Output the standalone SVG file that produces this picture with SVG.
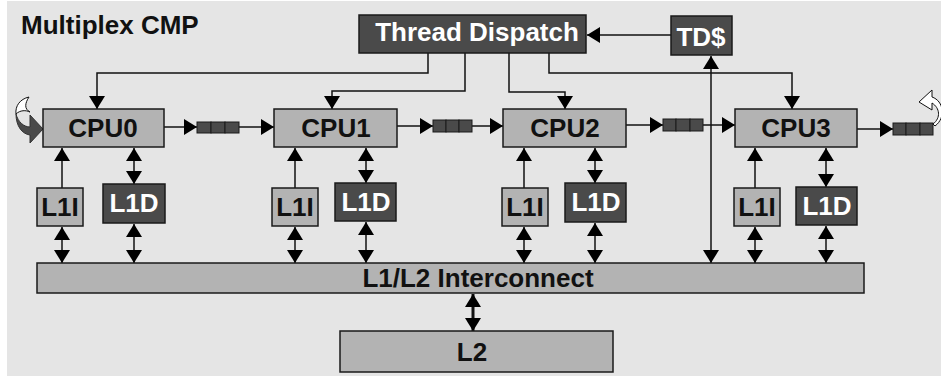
<svg xmlns="http://www.w3.org/2000/svg" width="941" height="377" viewBox="0 0 941 377">
<defs>
<marker id="ah" viewBox="0 0 13 16" markerWidth="13" markerHeight="16" refX="13" refY="8" orient="auto-start-reverse" markerUnits="userSpaceOnUse">
<path d="M0,0 L13,8 L0,16 z" fill="#000"/>
</marker>
</defs>
<style>
text{font-family:"Liberation Sans",Arial,Helvetica,sans-serif;font-weight:bold;text-anchor:middle}
.lt{fill:#b3b3b3;stroke:#1a1a1a;stroke-width:1.5}
.dk{fill:#4a4a4a;stroke:#1a1a1a;stroke-width:1.5}
.bt{fill:#111;font-size:26px}
.wt{fill:#fff;font-size:26px}
.ln{fill:none;stroke:#111;stroke-width:1.5}
.one{marker-end:url(#ah)}
.two{marker-start:url(#ah);marker-end:url(#ah)}
.q{fill:#4a4a4a;stroke:#1a1a1a;stroke-width:1}
</style>
<rect x="7" y="1" width="934" height="375" fill="#e5e5e5"/>
<text x="21" y="34" style="font-size:26px;text-anchor:start;fill:#111">Multiplex CMP</text>

<g id="connectors">
<polyline class="ln one" points="428,53 428,73 97,73 97,109"/>
<polyline class="ln one" points="465,53 465,91 332,91 332,109"/>
<polyline class="ln one" points="509,53 509,92 565,92 565,109"/>
<polyline class="ln one" points="549,53 549,73 792,73 792,109"/>
<line class="ln one" x1="671" y1="35" x2="587" y2="35"/>
<line class="ln two" x1="711" y1="56" x2="711" y2="263"/>
<line class="ln one" x1="164" y1="127" x2="197" y2="127"/>
<line class="ln one" x1="239" y1="127" x2="274" y2="127"/>
<line class="ln one" x1="397" y1="126" x2="433" y2="126"/>
<line class="ln one" x1="472" y1="126" x2="503" y2="126"/>
<line class="ln one" x1="626" y1="125" x2="663" y2="125"/>
<line class="ln one" x1="703" y1="125" x2="735" y2="125"/>
<line class="ln one" x1="857" y1="129" x2="893" y2="129"/>
<line class="ln one" x1="62" y1="188" x2="62" y2="148"/>
<line class="ln one" x1="295" y1="188" x2="295" y2="148"/>
<line class="ln one" x1="524" y1="188" x2="524" y2="148"/>
<line class="ln one" x1="755" y1="188" x2="755" y2="148"/>
<line class="ln two" x1="134" y1="148" x2="134" y2="184"/>
<line class="ln two" x1="366" y1="148" x2="366" y2="183"/>
<line class="ln two" x1="595" y1="148" x2="595" y2="183"/>
<line class="ln two" x1="826" y1="148" x2="826" y2="187"/>
<line class="ln two" x1="62" y1="227" x2="62" y2="263"/>
<line class="ln two" x1="134" y1="224" x2="134" y2="263"/>
<line class="ln two" x1="295" y1="227" x2="295" y2="263"/>
<line class="ln two" x1="366" y1="222" x2="366" y2="263"/>
<line class="ln two" x1="524" y1="227" x2="524" y2="263"/>
<line class="ln two" x1="595" y1="223" x2="595" y2="263"/>
<line class="ln two" x1="755" y1="227" x2="755" y2="263"/>
<line class="ln two" x1="826" y1="226" x2="826" y2="263"/>
<line class="ln two" style="stroke-width:3" x1="473" y1="294" x2="473" y2="331"/>
</g>

<g id="queues">
<g id="q0"><rect class="q" x="197" y="122" width="14" height="11"/><rect class="q" x="211" y="122" width="14" height="11"/><rect class="q" x="225" y="122" width="14" height="11"/></g>
<g id="q1"><rect class="q" x="433" y="120" width="13" height="12"/><rect class="q" x="446" y="120" width="13" height="12"/><rect class="q" x="459" y="120" width="13" height="12"/></g>
<g id="q2"><rect class="q" x="663" y="119" width="13" height="12"/><rect class="q" x="676" y="119" width="14" height="12"/><rect class="q" x="690" y="119" width="13" height="12"/></g>
<g id="q3"><rect class="q" x="893" y="123" width="13" height="12"/><rect class="q" x="906" y="123" width="14" height="12"/><rect class="q" x="920" y="123" width="13" height="12"/></g>
</g>

<g id="loop-in">
<path d="M29,97 C20,99 15,106 16,114 C20,110 26,110 30,112 C24,109 25,103 29,97 z" fill="#fff" stroke="#111" stroke-width="1"/>
<path d="M16,114 C18,122 24,127 30,127 L30,115 L43,129 L30,143 L30,135 C22,134 16,126 16,114 z" fill="#4a4a4a" stroke="#333" stroke-width="1"/>
</g>
<g id="loop-out">
<path d="M933,124 C941,118 940,108 932,103 L932,110 L919,102 L932,90 L932,97 C944,101 946,118 935,126 z" fill="#fff" stroke="#111" stroke-width="1"/>
</g>

<g id="thread-dispatch"><rect class="dk" x="359" y="15" width="227" height="38"/><text class="wt" x="477" y="41">Thread Dispatch</text></g>
<g id="tds"><rect class="dk" x="671" y="16" width="61" height="39"/><text class="wt" x="701" y="46">TD$</text></g>

<g id="cpu0"><rect class="lt" x="43" y="109" width="121" height="38"/><text class="bt" x="103" y="137">CPU0</text></g>
<g id="cpu1"><rect class="lt" x="274" y="109" width="123" height="38"/><text class="bt" x="336" y="137">CPU1</text></g>
<g id="cpu2"><rect class="lt" x="503" y="109" width="123" height="38"/><text class="bt" x="565" y="137">CPU2</text></g>
<g id="cpu3"><rect class="lt" x="735" y="109" width="122" height="38"/><text class="bt" x="796" y="137">CPU3</text></g>

<g id="l1i0"><rect class="lt" x="37" y="188" width="46" height="38"/><text class="bt" x="60" y="216">L1I</text></g>
<g id="l1d0"><rect class="dk" x="103" y="184" width="62" height="39"/><text class="wt" x="134" y="212">L1D</text></g>
<g id="l1i1"><rect class="lt" x="272" y="188" width="46" height="38"/><text class="bt" x="295" y="216">L1I</text></g>
<g id="l1d1"><rect class="dk" x="335" y="183" width="61" height="38"/><text class="wt" x="366" y="211">L1D</text></g>
<g id="l1i2"><rect class="lt" x="502" y="188" width="46" height="38"/><text class="bt" x="525" y="216">L1I</text></g>
<g id="l1d2"><rect class="dk" x="565" y="183" width="61" height="39"/><text class="wt" x="596" y="211">L1D</text></g>
<g id="l1i3"><rect class="lt" x="734" y="188" width="46" height="38"/><text class="bt" x="757" y="216">L1I</text></g>
<g id="l1d3"><rect class="dk" x="796" y="187" width="61" height="38"/><text class="wt" x="827" y="215">L1D</text></g>

<g id="interconnect"><rect class="lt" x="37" y="263" width="827" height="30"/><text class="bt" x="478" y="287">L1/L2 Interconnect</text></g>
<g id="l2"><rect class="lt" x="340" y="331" width="273" height="41"/><text class="bt" x="472" y="361">L2</text></g>
</svg>
